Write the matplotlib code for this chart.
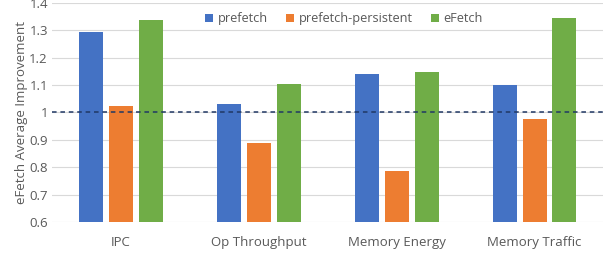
import matplotlib
matplotlib.use("Agg")
import matplotlib.pyplot as plt
import numpy as np

categories = ["IPC", "Op Throughput", "Memory Energy", "Memory Traffic"]
series = ["prefetch", "prefetch-persistent", "eFetch"]
prefetch = [1.294, 1.03, 1.14, 1.10]
prefetch_persistent = [1.022, 0.89, 0.785, 0.975]
efetch = [1.337, 1.105, 1.148, 1.345]
colors = ["#4472C4", "#ED7D31", "#70AD47"]
yticks = [0.6, 0.7, 0.8, 0.9, 1, 1.1, 1.2, 1.3, 1.4]
ytick_labels = ["0.6", "0.7", "0.8", "0.9", "1", "1.1", "1.2", "1.3", "1.4"]

plt.rcParams['font.family'] = ['Open Sans', 'DejaVu Sans']

fig = plt.figure(figsize=(6.08, 2.54), dpi=100)
ax = fig.add_axes([0.0855, 0.126, 0.907, 0.863])

x = np.arange(len(categories))
w = 0.174
step = 0.217
for i, (vals, name) in enumerate(zip([prefetch, prefetch_persistent, efetch], series)):
    ax.bar(x + (i - 1) * step, np.array(vals) - 0.6, bottom=0.6, width=w,
           color=colors[i], label=name, zorder=3)

ax.axhline(1.0, color="#203864", linestyle=(0, (3, 2.5)), linewidth=1.1, zorder=4)

ax.set_ylim(0.6, 1.4)
ax.set_xlim(-0.5, len(categories) - 0.5)
ax.set_yticks(yticks)
ax.set_yticklabels(ytick_labels)
ax.set_xticks(x)
ax.set_xticklabels(categories)
ax.grid(axis="y", color="#D9D9D9", linewidth=0.8, zorder=0)
for s in ax.spines.values():
    s.set_visible(False)
ax.tick_params(axis="both", length=0, labelsize=9.5, colors="#595959")
ax.tick_params(axis="x", pad=10)
ax.tick_params(axis="y", pad=3)
ax.set_ylabel("eFetch Average Improvement", fontsize=9.5, color="#595959", labelpad=1)

leg = ax.legend(loc="upper center", bbox_to_anchor=(0.53, 1.01), ncol=3, frameon=False,
                fontsize=9.2, handlelength=0.6, handleheight=0.6, handletextpad=0.4,
                columnspacing=1.4)
for t in leg.get_texts():
    t.set_color("#595959")

fig.savefig("out.png", dpi=100)
